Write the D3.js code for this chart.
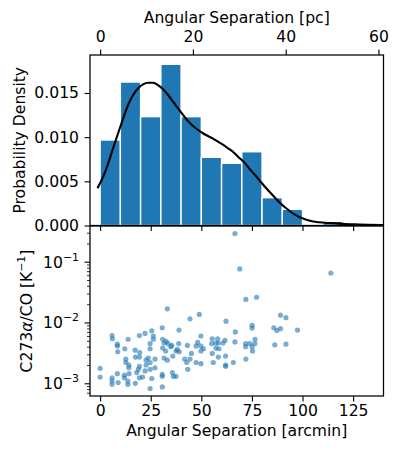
<!DOCTYPE html>
<html>
<head>
<meta charset="utf-8">
<script src="https://cdn.jsdelivr.net/npm/d3@7"></script>
<style>
  body { margin: 0; background: #fff; }
  svg { display: block; font-family: "DejaVu Sans", sans-serif; }
  .axis text { font-size: 15.6px; fill: #000; font-family: "DejaVu Sans", sans-serif; }
  .axis line { stroke: #000; }
  .axis path { display: none; }
</style>
</head>
<body>
<svg width="400" height="450"></svg>
<script>
/* Data */
// histogram bins (arcmin edges) and probability densities
const binEdges = [0, 10, 20, 30, 40, 50, 60, 70, 80, 90, 100, 110, 120];
const binDensity = [0.00968, 0.01624, 0.01232, 0.01825, 0.01232, 0.00772, 0.00704, 0.00835, 0.00315, 0.00183, 0, 0.00048];

// KDE curve (arcmin, density)
const kdeX = [-1.3, 1.5, 4.0, 6.4, 8.9, 11.4, 13.8, 16.3, 18.8, 21.2, 23.7, 26.2, 28.6, 31.1, 33.6, 36.0,
  38.5, 41.0, 43.4, 45.9, 48.4, 50.8, 53.3, 55.8, 58.2, 60.7, 63.2, 65.6, 68.1, 71.6, 74.0, 76.5, 79.0,
  81.4, 83.9, 86.4, 88.8, 91.3, 93.8, 96.2, 98.7, 101.2, 103.6, 106.1, 111.0, 116.0, 120.9, 125.8, 132.3, 139.7];
const kdeY = [0.00421, 0.00552, 0.00704, 0.00874, 0.01044, 0.01213, 0.01364, 0.01477, 0.01553, 0.01598,
  0.01616, 0.01616, 0.01590, 0.01542, 0.01477, 0.01401, 0.01327, 0.01251, 0.01183, 0.01126, 0.01081,
  0.01044, 0.01013, 0.00983, 0.00949, 0.00915, 0.00874, 0.00835, 0.00779, 0.00704, 0.00636, 0.00572,
  0.00504, 0.00439, 0.00376, 0.00315, 0.00258, 0.00206, 0.00161, 0.00122, 0.00093, 0.00070, 0.00054,
  0.00043, 0.00032, 0.00025, 0.00017, 0.00014, 0.00009, 0.00006];

// scatter: angular separation (arcmin) and C273alpha/CO ratio (K^-1)
const sepArcmin = [33.2, 44.4, 49, 39, 30.7, 25.5, 22.2, 19.4, 5.9, 6.1, 13.8, 26.3, 26.3, 8.5, 8.5, 12.2,
  8.7, 17.3, 19.6, 17.4, 19.4, 24.7, 24.7, 23.8, 27.1, 30.9, 31.6, 32.6, 33.5, 34.9, 30.9, 32.4, 35.9,
  31.6, 33.2, 35.4, 38.8, 38.1, 37.5, 39.1, 43.1, 41.8, 44.4, 42.8, 43.3, 45.1, 47.4, 48.2, 47.4, 0, 0,
  5.9, 5.9, 5.9, 8.5, 8.9, 12, 12, 13.7, 13.7, 14.3, 17.4, 19.4, 21, 18.9, 22.2, 22.7, 19.4, 25.5, 24.7,
  30.7, 30.7, 30.7, 35.7, 36.2, 37.5, 12.7, 12.7, 14.2, 14.2, 18.1, 22.7, 24.7, 27.1, 24.7,
  72, 77.3, 62.2, 89.1, 91.8, 97.5, 85.8, 87.3, 89.1, 75.1, 75.1, 66.8, 49.8, 49.8, 51, 49.8, 55.4, 58.1,
  55.1, 57.1, 58.4, 61.7, 60.7, 57.2, 58.7, 66.6, 55.4, 58.4, 62, 55.9, 62, 62, 65.8, 49.8, 72, 71.9,
  71.9, 74, 76.5, 76.5, 75.1, 75.3, 86.3, 91.8, 66.6, 69, 114];
const ratio = [0.0168, 0.0115, 0.0136, 0.0075, 0.0082, 0.0073, 0.0066, 0.0061, 0.0061, 0.0054, 0.0053,
  0.0060, 0.0053, 0.0044, 0.0041, 0.0037, 0.0033, 0.0035, 0.0032, 0.0027, 0.0027, 0.0045, 0.0037, 0.0026,
  0.0025, 0.0053, 0.0046, 0.0049, 0.0045, 0.0040, 0.0038, 0.0034, 0.0028, 0.0026, 0.0024, 0.0042, 0.0045,
  0.0036, 0.0034, 0.0033, 0.0042, 0.0025, 0.0025, 0.0022, 0.0017, 0.0031, 0.0041, 0.0047, 0.0022, 0.00176,
  0.00127, 0.00123, 0.00109, 0.00096, 0.00144, 0.00103, 0.00136, 0.00123, 0.00109, 0.00096, 0.00144,
  0.0010, 0.00123, 0.00127, 0.0017, 0.0016, 0.0020, 0.0019, 0.0012, 0.00082, 0.0014, 0.0013, 0.00087,
  0.0015, 0.0013, 0.0013, 0.0025, 0.0022, 0.0020, 0.0018, 0.0015, 0.0024, 0.0017, 0.0018, 0.0022,
  0.024, 0.026, 0.0105, 0.0132, 0.0120, 0.0075, 0.0082, 0.0074, 0.0079, 0.0090, 0.0081, 0.0070, 0.0060,
  0.0041, 0.0037, 0.0034, 0.0054, 0.0054, 0.0045, 0.0046, 0.0046, 0.0051, 0.0046, 0.0038, 0.0037, 0.0048,
  0.0031, 0.0027, 0.0028, 0.0022, 0.0020, 0.0019, 0.0022, 0.0021, 0.0025, 0.0045, 0.0040, 0.0045, 0.0053,
  0.0045, 0.0040, 0.0034, 0.0043, 0.0044, 0.29, 0.076, 0.065];

// tick labels
const arcminTicks = [0, 25, 50, 75, 100, 125];
const pcTicks = [0, 20, 40, 60];
const densityTicks = [0, 0.005, 0.010, 0.015];
const logTicks = [1e-3, 1e-2, 1e-1];

/* SVG */
const svg = d3.select('svg');
const BLUE = '#1f77b4';
const TICK = 5.4;
const ARCMIN_TO_PC = 1500 * Math.PI / (180 * 60);

/* Layout */
const left = 90, right = 383.5;
const topPanel = { top: 55, bottom: 225.5 };
const botPanel = { top: 226, bottom: 396 };

/* Scales */
const x = d3.scaleLinear().domain([-5, 140]).range([left, right]);
const xPc = d3.scaleLinear().domain([-5 * ARCMIN_TO_PC, 140 * ARCMIN_TO_PC]).range([left, right]);
const yDen = d3.scaleLinear().domain([0, 0.0193]).range([topPanel.bottom, topPanel.top]);
const yRat = d3.scaleLog().domain([6.18e-4, 0.3866]).range([botPanel.bottom, botPanel.top]);

/* Clip paths */
const defs = svg.append('defs');
defs.append('clipPath').attr('id', 'clipTop').append('rect')
  .attr('x', left).attr('y', topPanel.top).attr('width', right - left).attr('height', topPanel.bottom - topPanel.top);
defs.append('clipPath').attr('id', 'clipBot').append('rect')
  .attr('x', left).attr('y', botPanel.top).attr('width', right - left).attr('height', botPanel.bottom - botPanel.top);

/* Histogram */
const bins = binDensity.map((d, i) => ({ x0: binEdges[i], x1: binEdges[i + 1], v: d })).filter(d => d.v > 0);
svg.append('g').attr('clip-path', 'url(#clipTop)')
  .selectAll('rect').data(bins).enter().append('rect')
  .attr('x', d => x(d.x0))
  .attr('y', d => yDen(d.v))
  .attr('width', d => x(d.x1) - x(d.x0))
  .attr('height', d => yDen(0) - yDen(d.v))
  .attr('fill', BLUE)
  .attr('stroke', '#fff')
  .attr('stroke-width', 1.4);

/* KDE */
const kde = kdeX.map((d, i) => [d, kdeY[i]]);
svg.append('path')
  .attr('clip-path', 'url(#clipTop)')
  .attr('d', d3.line().x(d => x(d[0])).y(d => yDen(d[1])).curve(d3.curveMonotoneX)(kde))
  .attr('fill', 'none')
  .attr('stroke', '#000')
  .attr('stroke-width', 2.1);

/* Scatter */
svg.append('g').attr('clip-path', 'url(#clipBot)')
  .selectAll('circle').data(sepArcmin.map((d, i) => [d, ratio[i]])).enter().append('circle')
  .attr('cx', d => x(d[0]))
  .attr('cy', d => yRat(d[1]))
  .attr('r', 2.6)
  .attr('fill', BLUE)
  .attr('fill-opacity', 0.6);

/* Axes */
function styleAxis(g, w) {
  g.attr('class', 'axis');
  g.selectAll('.tick line').attr('stroke-width', w);
  return g;
}

// top panel: pc on top
svg.append('g').attr('transform', `translate(0,${topPanel.top})`)
  .call(d3.axisTop(xPc).tickValues(pcTicks).tickSize(TICK).tickSizeOuter(0).tickPadding(8).tickFormat(d3.format('d')))
  .call(g => styleAxis(g, 1.1));

// top panel: arcmin ticks at bottom, no labels
svg.append('g').attr('transform', `translate(0,${topPanel.bottom})`)
  .call(d3.axisBottom(x).tickValues(arcminTicks).tickSize(TICK).tickSizeOuter(0).tickFormat(''))
  .call(g => styleAxis(g, 1.1));

// top panel: density
svg.append('g').attr('transform', `translate(${left},0)`)
  .call(d3.axisLeft(yDen).tickValues(densityTicks).tickSize(TICK).tickSizeOuter(0).tickPadding(5.6).tickFormat(d3.format('.3f')))
  .call(g => styleAxis(g, 1.1));

// bottom panel: arcmin
svg.append('g').attr('transform', `translate(0,${botPanel.bottom})`)
  .call(d3.axisBottom(x).tickValues(arcminTicks).tickSize(TICK).tickSizeOuter(0).tickPadding(4))
  .call(g => styleAxis(g, 1.1));

// bottom panel: log ratio, major
const logAxis = svg.append('g').attr('transform', `translate(${left},0)`)
  .call(d3.axisLeft(yRat).tickValues(logTicks).tickSize(TICK).tickSizeOuter(0).tickFormat(''))
  .call(g => styleAxis(g, 1.1));
logAxis.selectAll('.tick').append('text')
  .attr('x', -11).attr('y', 5.5).attr('text-anchor', 'end')
  .each(function (d) {
    const t = d3.select(this);
    t.append('tspan').text('10');
    t.append('tspan').attr('font-size', '10.9px').attr('dy', -7)
      .text('\u2212' + Math.round(-Math.log10(d)));
  });

// bottom panel: log ratio, minor
const minor = [];
[1e-4, 1e-3, 1e-2, 1e-1].forEach(b => { for (let k = 2; k <= 9; k++) minor.push(b * k); });
svg.append('g').attr('transform', `translate(${left},0)`)
  .call(d3.axisLeft(yRat).tickValues(minor.filter(v => v >= yRat.domain()[0] && v <= yRat.domain()[1]))
    .tickSize(3).tickSizeOuter(0).tickFormat(''))
  .call(g => styleAxis(g, 0.8));

/* Spines */
[topPanel, botPanel].forEach(p => {
  svg.append('rect')
    .attr('x', left).attr('y', p.top)
    .attr('width', right - left).attr('height', p.bottom - p.top)
    .attr('fill', 'none').attr('stroke', '#000').attr('stroke-width', 1.25);
});

/* Labels */
const labelFont = 15.6;
svg.append('text')
  .attr('x', (left + right) / 2).attr('y', 22.5)
  .attr('text-anchor', 'middle').attr('font-size', labelFont)
  .text('Angular Separation [pc]');

svg.append('text')
  .attr('x', (left + right) / 2).attr('y', 436)
  .attr('text-anchor', 'middle').attr('font-size', labelFont)
  .text('Angular Separation [arcmin]');

svg.append('text')
  .attr('transform', `translate(25,${(topPanel.top + topPanel.bottom) / 2}) rotate(-90)`)
  .attr('text-anchor', 'middle').attr('font-size', labelFont)
  .text('Probability Density');

const ratioLabel = svg.append('text')
  .attr('transform', `translate(32,${(botPanel.top + botPanel.bottom) / 2}) rotate(-90)`)
  .attr('text-anchor', 'middle').attr('font-size', labelFont);
ratioLabel.append('tspan').text('C273');
ratioLabel.append('tspan').attr('font-style', 'italic').text('\u03b1');
ratioLabel.append('tspan').text('/CO [K');
ratioLabel.append('tspan').attr('font-size', '10.9px').attr('dy', -7.5).text('\u22121');
ratioLabel.append('tspan').attr('dy', 7.5).text(']');
</script>
</body>
</html>
